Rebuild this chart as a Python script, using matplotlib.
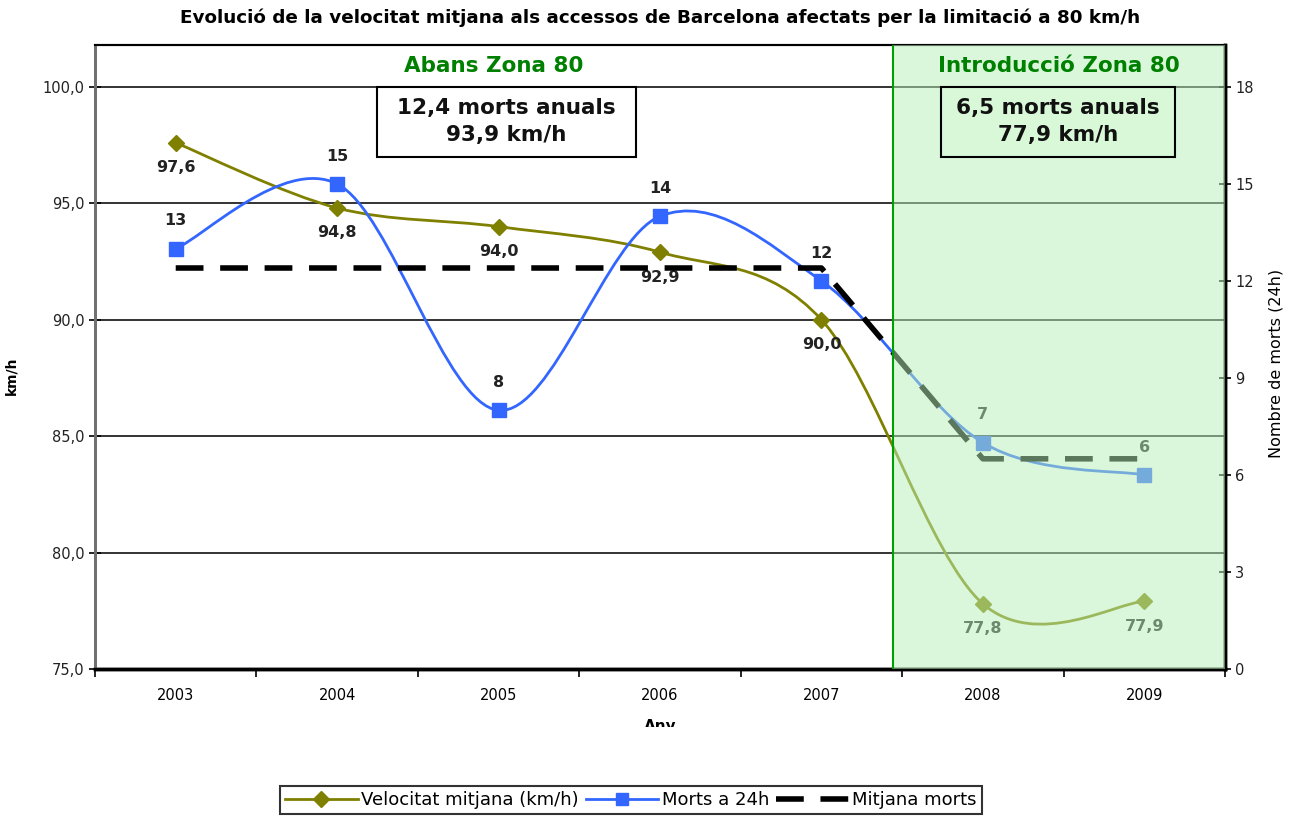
import numpy as np
import matplotlib.pyplot as plt
from matplotlib.path import Path
from matplotlib.patches import PathPatch, Rectangle
from matplotlib.lines import Line2D

anys = ["2003", "2004", "2005", "2006", "2007", "2008", "2009"]
velocitat = [97.6, 94.8, 94.0, 92.9, 90.0, 77.8, 77.9]
morts = [13, 15, 8, 14, 12, 7, 6]
mitjana_morts = [12.4, 12.4, 12.4, 12.4, 12.4, 6.5, 6.5]
vel_labels = ["97,6", "94,8", "94,0", "92,9", "90,0", "77,8", "77,9"]

OLIVE = "#808000"
BLUE = "#3366ff"
GREEN_TXT = "#008000"
plt.rcParams["font.family"] = ["DejaVu Sans"]


def smooth_path(xs, ys):
    # corba suavitzada tipus Excel (Catmull-Rom -> Bezier)
    n = len(xs)
    pts = np.column_stack([xs, ys]).astype(float)
    verts = [pts[0]]
    codes = [Path.MOVETO]
    for i in range(n - 1):
        p0 = pts[max(i - 1, 0)]
        p1 = pts[i]
        p2 = pts[i + 1]
        p3 = pts[min(i + 2, n - 1)]
        c1 = p1 + (p2 - p0) / 6.0
        c2 = p2 - (p3 - p1) / 6.0
        verts += [c1, c2, p2]
        codes += [Path.CURVE4] * 3
    return Path(verts, codes)


x = np.arange(len(anys))
ymax_l = 101.8
ymax_r = (ymax_l - 75) * 18 / 25

fig = plt.figure(figsize=(12.93, 8.19), dpi=100)
ax = fig.add_axes([95 / 1293, 1 - 669 / 819, 1130 / 1293, 624 / 819])
ax2 = ax.twinx()

ax.set_xlim(-0.5, 6.5)
ax.set_ylim(75, ymax_l)
ax2.set_ylim(0, ymax_r)

# quadrícula
for v in [80, 85, 90, 95, 100]:
    ax.axhline(v, color="#111111", lw=1.2, zorder=1)

# velocitat
ax.add_patch(PathPatch(smooth_path(x, velocitat), fill=False, edgecolor=OLIVE, lw=2, zorder=3))
ax.plot(x, velocitat, ls="none", marker="D", ms=8, color=OLIVE, zorder=4)
for xi, yi, lab in zip(x, velocitat, vel_labels):
    ax.annotate(lab, (xi, yi), xytext=(0, -18), textcoords="offset points",
                ha="center", va="center", fontsize=11.5, fontweight="bold", color="#222222", zorder=5)

# morts
ax2.add_patch(PathPatch(smooth_path(x, morts), fill=False, edgecolor=BLUE, lw=2, zorder=3))
ax2.plot(x, morts, ls="none", marker="s", ms=10, color=BLUE, zorder=4)
for xi, yi in zip(x, morts):
    ax2.annotate(str(yi), (xi, yi), xytext=(0, 20), textcoords="offset points",
                 ha="center", va="center", fontsize=11.5, fontweight="bold", color="#222222", zorder=5)

# mitjana morts
ax2.plot(x, mitjana_morts, color="black", lw=4, ls=(0, (5, 3)), zorder=3.5)

# zona 80
ax2.axvspan(4.444, 6.5, facecolor="#b8f0b8", alpha=0.5, edgecolor="none", zorder=6)
ax2.axvline(4.444, color="#00a000", lw=1.5, zorder=6)

# capçaleres
ax2.text(1.97, (100.9 - 75) * 18 / 25, "Abans Zona 80", ha="center", va="center",
         fontsize=15.5, fontweight="bold", color=GREEN_TXT, zorder=8)
ax2.text(5.472, (100.9 - 75) * 18 / 25, "Introducció Zona 80", ha="center", va="center",
         fontsize=15.5, fontweight="bold", color=GREEN_TXT, zorder=8)

# caixes resum
def caixa(x0, x1, fc, text):
    y0 = (97.0 - 75) * 18 / 25
    y1 = (100 - 75) * 18 / 25
    ax2.add_patch(Rectangle((x0, y0), x1 - x0, y1 - y0, facecolor=fc, edgecolor="black",
                            lw=1.5, zorder=7))
    ax2.text((x0 + x1) / 2, (y0 + y1) / 2, text, ha="center", va="center", fontsize=15.5,
             fontweight="bold", color="#111111", linespacing=1.45, zorder=8)

caixa(1.247, 2.852, "white", "12,4 morts anuals\n93,9 km/h")
caixa(4.742, 6.191, "#d8f8d8", "6,5 morts anuals\n77,9 km/h")

# eixos
ax.set_xticks(x)
ax.set_xticklabels(anys, fontsize=10.5)
ax.set_xticks(np.arange(-0.5, 7, 1), minor=True)
ax.tick_params(axis="x", which="major", length=0, pad=14)
ax.tick_params(axis="x", which="minor", length=6, width=1.2, direction="out")
ax.set_yticks([75, 80, 85, 90, 95, 100])
ax.set_yticklabels(["75,0", "80,0", "85,0", "90,0", "95,0", "100,0"], fontsize=10.5, color="#222222")
ax.tick_params(axis="y", direction="inout", length=8, width=1.2)
ax2.set_yticks(range(0, 19, 3))
ax2.set_yticklabels([str(v) for v in range(0, 19, 3)], fontsize=10.5, color="#222222")
ax2.tick_params(axis="y", direction="inout", length=8, width=1.2)

for a in (ax, ax2):
    a.spines["left"].set_color("#707070")
    a.spines["left"].set_linewidth(2)
    a.spines["bottom"].set_linewidth(2.5)
    a.spines["right"].set_linewidth(2.5)
    a.spines["top"].set_linewidth(1.5)

ax.set_ylabel("km/h", fontsize=10, fontweight="bold")
ax.yaxis.set_label_coords((18 - 95) / 1130, 0.47)
ax2.set_ylabel("Nombre de morts (24h)", fontsize=11.5)
ax2.yaxis.set_label_coords((1268 - 95) / 1130, 0.49)

t = fig.text(660 / 1293, 1 - 727 / 819, "Any", ha="center", va="center", fontsize=11, fontweight="bold")
t.set_clip_path(Rectangle((0, 1 - 727 / 819), 1, 1, transform=fig.transFigure))

fig.suptitle("Evolució de la velocitat mitjana als accessos de Barcelona afectats per la limitació a 80 km/h",
             x=660 / 1293, y=1 - 18 / 819, va="center", fontsize=13.2, fontweight="bold")

handles = [
    Line2D([], [], color=OLIVE, lw=2, marker="D", ms=8),
    Line2D([], [], color=BLUE, lw=2, marker="s", ms=9),
    Line2D([], [], color="black", lw=4, ls=(0, (5, 3))),
]
leg = fig.legend(handles, ["Velocitat mitjana (km/h)", "Morts a 24h", "Mitjana morts"],
                 loc="center", bbox_to_anchor=(631 / 1293, 1 - 800 / 819), ncol=3,
                 fontsize=13, frameon=True, fancybox=False, edgecolor="black",
                 handlelength=4.0, handletextpad=0.2, columnspacing=0.4, borderpad=0.3)
leg.get_frame().set_linewidth(1.5)

fig.savefig("out.png", dpi=100)
